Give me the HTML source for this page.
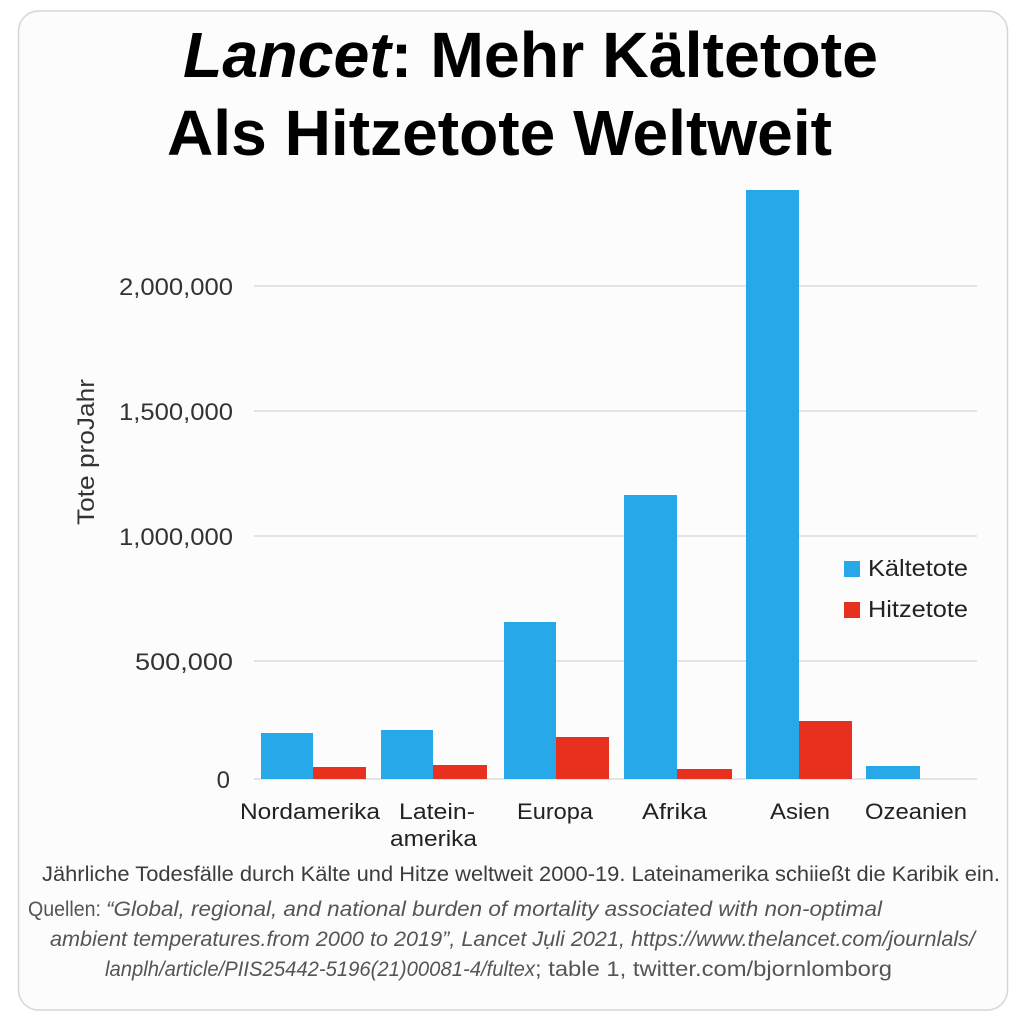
<!DOCTYPE html>
<html>
<head>
<meta charset="utf-8">
<style>
html,body{margin:0;padding:0;background:#ffffff;}
svg{display:block;}
text{font-family:"Liberation Sans",sans-serif;}
</style>
</head>
<body>
<svg width="1024" height="1024" viewBox="0 0 1024 1024" xmlns="http://www.w3.org/2000/svg">
  <rect x="0" y="0" width="1024" height="1024" fill="#ffffff"/>
  <rect x="18.5" y="11" width="989" height="999" rx="20" ry="20" fill="#fcfcfc" stroke="#d6d6d6" stroke-width="1.5"/>

  <!-- Title -->
  <text x="183" y="77" font-size="64" font-weight="bold" fill="#000" textLength="695" lengthAdjust="spacingAndGlyphs"><tspan font-style="italic">Lancet</tspan>: Mehr Kältetote</text>
  <text x="167" y="155" font-size="64" font-weight="bold" fill="#000" textLength="665" lengthAdjust="spacingAndGlyphs">Als Hitzetote Weltweit</text>

  <!-- Gridlines -->
  <g stroke="#d4d4d4" stroke-width="1.3">
    <line x1="254" y1="286" x2="977" y2="286"/>
    <line x1="254" y1="411" x2="977" y2="411"/>
    <line x1="254" y1="536" x2="977" y2="536"/>
    <line x1="254" y1="661" x2="977" y2="661"/>
    <line x1="254" y1="779" x2="977" y2="779"/>
  </g>

  <!-- Y tick labels -->
  <g font-size="24" fill="#333" text-anchor="end">
    <text x="233" y="295" textLength="114" lengthAdjust="spacingAndGlyphs">2,000,000</text>
    <text x="233" y="420" textLength="114" lengthAdjust="spacingAndGlyphs">1,500,000</text>
    <text x="233" y="545" textLength="114" lengthAdjust="spacingAndGlyphs">1,000,000</text>
    <text x="233" y="670" textLength="98" lengthAdjust="spacingAndGlyphs">500,000</text>
    <text x="230" y="788">0</text>
  </g>

  <!-- Y axis title -->
  <text transform="translate(94,452) rotate(-90)" font-size="24" fill="#333" text-anchor="middle" textLength="146" lengthAdjust="spacingAndGlyphs">Tote proJahr</text>

  <!-- Bars -->
  <g fill="#27a8e8">
    <rect x="261" y="733" width="52" height="46"/>
    <rect x="381" y="730" width="52" height="49"/>
    <rect x="504" y="622" width="52" height="157"/>
    <rect x="624" y="495" width="53" height="284"/>
    <rect x="746" y="190" width="53" height="589"/>
    <rect x="866" y="766" width="54" height="13"/>
  </g>
  <g fill="#e8301f">
    <rect x="313" y="767" width="53" height="12"/>
    <rect x="433" y="765" width="54" height="14"/>
    <rect x="556" y="737" width="53" height="42"/>
    <rect x="677" y="769" width="55" height="10"/>
    <rect x="799" y="721" width="53" height="58"/>
  </g>

  <!-- Legend -->
  <rect x="844" y="561" width="16" height="16" fill="#27a8e8"/>
  <text x="868" y="576" font-size="23" fill="#222" textLength="100" lengthAdjust="spacingAndGlyphs">Kältetote</text>
  <rect x="844" y="602" width="16" height="16" fill="#e8301f"/>
  <text x="868" y="617" font-size="23" fill="#222" textLength="100" lengthAdjust="spacingAndGlyphs">Hitzetote</text>

  <!-- Category labels -->
  <g font-size="22" fill="#222">
    <text x="240" y="819" textLength="140" lengthAdjust="spacingAndGlyphs">Nordamerika</text>
    <text x="399" y="819" textLength="76" lengthAdjust="spacingAndGlyphs">Latein-</text>
    <text x="390" y="846" textLength="87" lengthAdjust="spacingAndGlyphs">amerika</text>
    <text x="517" y="819" textLength="76" lengthAdjust="spacingAndGlyphs">Europa</text>
    <text x="642" y="819" textLength="65" lengthAdjust="spacingAndGlyphs">Afrika</text>
    <text x="770" y="819" textLength="60" lengthAdjust="spacingAndGlyphs">Asien</text>
    <text x="865" y="819" textLength="102" lengthAdjust="spacingAndGlyphs">Ozeanien</text>
  </g>

  <!-- Caption -->
  <text x="42" y="881" font-size="21" fill="#3c3c3c" textLength="958" lengthAdjust="spacingAndGlyphs">Jährliche Todesfälle durch Kälte und Hitze weltweit 2000-19. Lateinamerika schiießt die Karibik ein.</text>

  <!-- Sources -->
  <g font-size="21" fill="#555">
    <text x="28" y="916" textLength="73" lengthAdjust="spacingAndGlyphs">Quellen:</text>
    <text x="106" y="916" font-style="italic" textLength="776" lengthAdjust="spacingAndGlyphs">“Global, regional, and national burden of mortality associated with non-optimal</text>
    <text x="50" y="946" font-style="italic" textLength="925" lengthAdjust="spacingAndGlyphs">ambient temperatures.from 2000 to 2019”, Lancet Jụli 2021, https://www.thelancet.com/journlals/</text>
    <text x="105" y="976" font-style="italic" textLength="430" lengthAdjust="spacingAndGlyphs">lanplh/article/PIIS25442-5196(21)00081-4/fultex</text>
    <text x="535" y="976" textLength="357" lengthAdjust="spacingAndGlyphs">; table 1, twitter.com/bjornlomborg</text>
  </g>
</svg>
</body>
</html>
